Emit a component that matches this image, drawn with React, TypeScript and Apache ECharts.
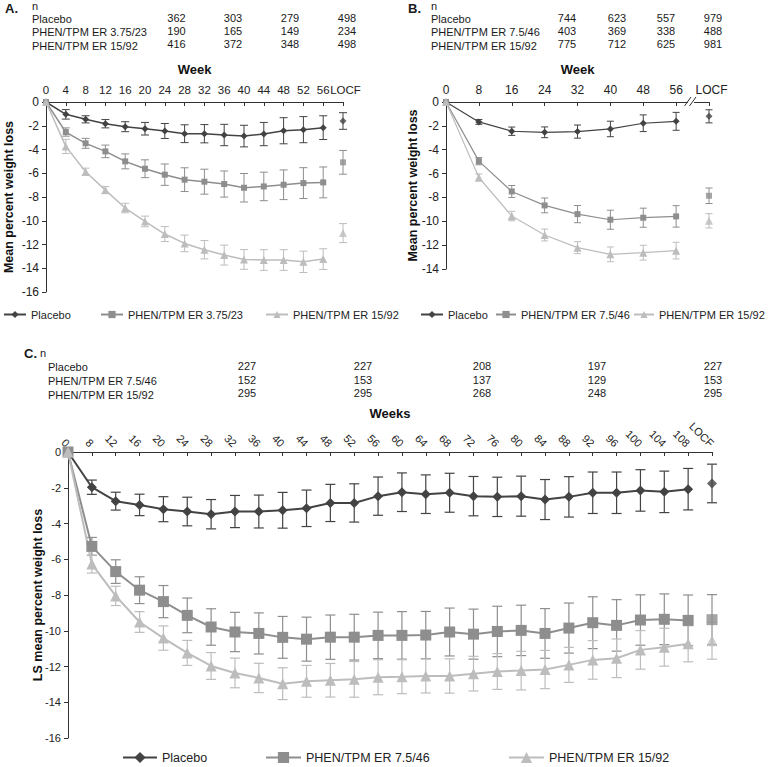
import React, { useEffect, useRef } from 'react';
import * as echarts from 'echarts';

const FONT = '"Liberation Sans", Arial, Helvetica, sans-serif';

const C_PLACEBO = '#434343';
const C_MID = '#8e8e8e';
const C_HIGH = '#bdbdbd';

// ---------- Panel A ----------
const aWeeks = ['0', '4', '8', '12', '16', '20', '24', '28', '32', '36', '40', '44', '48', '52', '56', 'LOCF'];
const aPlacebo = [0, -1.04, -1.46, -1.83, -2.08, -2.25, -2.44, -2.67, -2.67, -2.78, -2.87, -2.7, -2.42, -2.33, -2.16, -1.6];
const aPlaceboErr = [0, 0.4, 0.3, 0.35, 0.42, 0.53, 0.63, 0.75, 0.77, 0.9, 0.91, 0.98, 1.1, 1.1, 1.0, 0.7];
const aMid = [0, -2.53, -3.48, -4.16, -5.0, -5.62, -6.12, -6.54, -6.71, -6.91, -7.22, -7.11, -6.97, -6.83, -6.77, -5.08];
const aMidErr = [0, 0.35, 0.42, 0.53, 0.63, 0.75, 0.9, 1.0, 1.05, 1.1, 1.2, 1.2, 1.25, 1.3, 1.3, 1.0];
const aHigh = [0, -3.74, -5.87, -7.42, -8.93, -10.06, -11.12, -11.91, -12.44, -12.89, -13.26, -13.31, -13.31, -13.46, -13.23, -11.04];
const aHighErr = [0, 0.6, 0.3, 0.3, 0.4, 0.45, 0.63, 0.7, 0.77, 0.84, 0.83, 0.87, 0.87, 0.9, 0.87, 0.8];
const aGroups = ['Placebo', 'PHEN/TPM ER 3.75/23', 'PHEN/TPM ER 15/92'];
const aN = [
  [362, 303, 279, 498],
  [190, 165, 149, 234],
  [416, 372, 348, 498],
];

// ---------- Panel B ----------
const bWeeks = ['0', '8', '16', '24', '32', '40', '48', '56', 'LOCF'];
const bPlacebo = [0, -1.67, -2.45, -2.54, -2.48, -2.26, -1.78, -1.62, -1.2];
const bPlaceboErr = [0, 0.2, 0.35, 0.45, 0.55, 0.65, 0.7, 0.75, 0.55];
const bMid = [0, -4.96, -7.5, -8.67, -9.4, -9.87, -9.7, -9.59, -7.86];
const bMidErr = [0, 0.3, 0.5, 0.62, 0.72, 0.8, 0.8, 0.9, 0.65];
const bHigh = [0, -6.33, -9.56, -11.15, -12.21, -12.77, -12.63, -12.46, -9.96];
const bHighErr = [0, 0.3, 0.4, 0.5, 0.5, 0.62, 0.62, 0.7, 0.6];
const bGroups = ['Placebo', 'PHEN/TPM ER 7.5/46', 'PHEN/TPM ER 15/92'];
const bN = [
  [744, 623, 557, 979],
  [403, 369, 338, 488],
  [775, 712, 625, 981],
];

// ---------- Panel C ----------
const cWeeks = ['0', '8', '12', '16', '20', '24', '28', '32', '36', '40', '44', '48', '52', '56', '60', '64', '68', '72', '76', '80', '84', '88', '92', '96', '100', '104', '108', 'LOCF'];
const cPlacebo = [0, -1.97, -2.75, -2.96, -3.2, -3.33, -3.48, -3.33, -3.33, -3.26, -3.15, -2.85, -2.85, -2.47, -2.25, -2.36, -2.28, -2.47, -2.51, -2.47, -2.66, -2.51, -2.28, -2.28, -2.15, -2.23, -2.08, -1.76];
const cPlaceboErr = [0, 0.4, 0.5, 0.6, 0.7, 0.8, 0.82, 0.9, 0.92, 1.0, 1.02, 1.04, 1.07, 1.07, 1.08, 1.08, 1.09, 1.1, 1.1, 1.12, 1.12, 1.13, 1.16, 1.16, 1.16, 1.16, 1.16, 1.08];
const cMid = [0, -5.28, -6.69, -7.73, -8.37, -9.14, -9.79, -10.07, -10.15, -10.37, -10.47, -10.36, -10.36, -10.26, -10.26, -10.24, -10.07, -10.19, -10.04, -9.98, -10.15, -9.85, -9.55, -9.7, -9.4, -9.36, -9.42, -9.38];
const cMidErr = [0, 0.5, 0.66, 0.75, 0.9, 0.97, 1.02, 1.1, 1.15, 1.17, 1.23, 1.24, 1.28, 1.3, 1.33, 1.32, 1.34, 1.4, 1.41, 1.41, 1.39, 1.4, 1.45, 1.44, 1.41, 1.42, 1.42, 1.4];
const cHigh = [0, -6.27, -8.05, -9.51, -10.41, -11.24, -11.97, -12.36, -12.64, -12.96, -12.83, -12.77, -12.72, -12.6, -12.57, -12.53, -12.53, -12.4, -12.28, -12.23, -12.17, -11.91, -11.63, -11.54, -11.07, -10.92, -10.73, -10.56];
const cHighErr = [0, 0.5, 0.54, 0.58, 0.68, 0.7, 0.75, 0.83, 0.82, 0.89, 0.89, 0.94, 1.0, 0.98, 0.95, 0.95, 0.96, 0.97, 1.0, 1.08, 1.07, 0.98, 1.08, 1.08, 1.08, 1.06, 1.01, 1.03];
const cGroups = ['Placebo', 'PHEN/TPM ER 7.5/46', 'PHEN/TPM ER 15/92'];
const cN = [
  [227, 227, 208, 197, 227],
  [152, 153, 137, 129, 153],
  [295, 295, 268, 248, 295],
];

const COLORS = [C_PLACEBO, C_MID, C_HIGH];
const SYMBOLS = ['diamond', 'rect', 'triangle'];

function mkSeries(prefix: string, idx: number, names: string[], means: number[][], errs: number[][], sizes: number[], lw: number, cap: number, ebw: number) {
  const out: any[] = [];
  means.forEach((m, g) => {
    const color = COLORS[g];
    const err = errs[g];
    out.push({
      type: 'custom',
      name: prefix + ' SE ' + g,
      xAxisIndex: idx,
      yAxisIndex: idx,
      silent: true,
      z: 2,
      encode: { x: 0, y: [1, 2] },
      data: m.map((v, i) => [i, v - err[i], v + err[i]]).filter((_, i) => err[i] > 0),
      renderItem: (params: any, api: any) => {
        const x = api.value(0);
        const lo = api.coord([x, api.value(1)]);
        const hi = api.coord([x, api.value(2)]);
        const s = { stroke: color, lineWidth: ebw };
        return {
          type: 'group',
          children: [
            { type: 'line', shape: { x1: hi[0], y1: hi[1], x2: lo[0], y2: lo[1] }, style: s },
            { type: 'line', shape: { x1: hi[0] - cap / 2, y1: hi[1], x2: hi[0] + cap / 2, y2: hi[1] }, style: s },
            { type: 'line', shape: { x1: lo[0] - cap / 2, y1: lo[1], x2: lo[0] + cap / 2, y2: lo[1] }, style: s },
          ],
        };
      },
    });
  });
  means.forEach((m, g) => {
    const color = COLORS[g];
    out.push({
      type: 'line',
      name: names[g],
      xAxisIndex: idx,
      yAxisIndex: idx,
      z: 3,
      silent: true,
      symbol: SYMBOLS[g],
      symbolSize: sizes[g],
      showAllSymbol: true,
      lineStyle: { color, width: lw },
      itemStyle: { color },
      data: m.map((v, i) => (i === m.length - 1 ? '-' : v)),
    });
    out.push({
      type: 'scatter',
      name: prefix + ' LOCF ' + g,
      xAxisIndex: idx,
      yAxisIndex: idx,
      z: 3,
      silent: true,
      symbol: SYMBOLS[g],
      symbolSize: sizes[g],
      itemStyle: { color },
      data: [[m.length - 1, m[m.length - 1]]],
    });
  });
  return out;
}

function txt(x: number, y: number, text: string, o: any = {}) {
  return {
    type: 'text',
    x,
    y,
    silent: true,
    z: 10,
    style: {
      text,
      fill: o.fill || '#1a1a1a',
      fontSize: o.size || 11,
      fontFamily: FONT,
      fontWeight: o.weight || 'normal',
      textAlign: o.align || 'left',
      align: o.align || 'left',
      textVerticalAlign: 'middle',
      verticalAlign: 'middle',
    },
  };
}

function xAxisCfg(grid: number, data: string[], name: string, gap: number, labelSize: number, rotate: number, margin: number) {
  return {
    gridIndex: grid,
    type: 'category',
    position: 'top',
    data,
    boundaryGap: false,
    name,
    nameLocation: 'middle',
    nameGap: gap,
    nameMoveOverlap: false,
    nameTextStyle: { fontWeight: 'bold', fontSize: 13, color: '#111', fontFamily: FONT },
    axisLine: { onZero: false, lineStyle: { color: '#333', width: 1 } },
    axisTick: { inside: true, length: 4, interval: 0, lineStyle: { color: '#333' } },
    axisLabel: {
      interval: 0,
      fontSize: labelSize,
      color: '#222',
      fontFamily: FONT,
      rotate,
      margin,
      hideOverlap: false,
      formatter: (v: string) => (v === 'LOCF' && rotate === 0 ? '{l|LOCF}' : v),
      rich: { l: { fontSize: labelSize, color: '#222', fontFamily: FONT, padding: [0, 0, 0, 5] } },
    },
    splitLine: { show: false },
  };
}

function yAxisCfg(grid: number, min: number, name: string, gap: number, nameSize: number, labelSize: number) {
  return {
    gridIndex: grid,
    type: 'value',
    min,
    max: 0,
    interval: 2,
    name,
    nameLocation: 'middle',
    nameGap: gap,
    nameMoveOverlap: false,
    nameTextStyle: { fontWeight: 'bold', fontSize: nameSize, color: '#111', fontFamily: FONT },
    axisLine: { show: true, lineStyle: { color: '#333', width: 1 } },
    axisTick: { show: true, length: 4, lineStyle: { color: '#333' } },
    axisLabel: { fontSize: labelSize, color: '#222', fontFamily: FONT, margin: 7 },
    splitLine: { show: false },
  };
}

function legendItem(name: string, left: number, top: number, w: number, h: number, size: number) {
  return {
    data: [name],
    left,
    top,
    padding: 0,
    itemWidth: w,
    itemHeight: h,
    selectedMode: false,
    textStyle: { fontSize: size, color: '#222', fontFamily: FONT },
  };
}

export default function App() {
  const ref = useRef<HTMLDivElement>(null);
  useEffect(() => {
    if (!ref.current) return;
    const chart = echarts.init(ref.current, undefined, { renderer: 'svg' });

    const graphics: any[] = [];
    // Panel A table
    graphics.push(txt(5, 8, 'A.', { weight: 'bold', size: 13 }));
    graphics.push(txt(32, 6, 'n'));
    const aRowY = [19, 32.3, 45.7];
    const aNumY = [17.5, 30.8, 44];
    const aCols = [176.5, 233, 290, 347];
    aGroups.forEach((g, r) => {
      graphics.push(txt(32, aRowY[r], g));
      aN[r].forEach((v, c) => graphics.push(txt(aCols[c], aNumY[r], String(v), { align: 'center' })));
    });
    // Panel B table
    graphics.push(txt(408, 8, 'B.', { weight: 'bold', size: 13 }));
    graphics.push(txt(431, 6, 'n'));
    const bCols = [567, 617, 666, 713];
    bGroups.forEach((g, r) => {
      graphics.push(txt(431, aRowY[r], g));
      bN[r].forEach((v, c) => graphics.push(txt(bCols[c], aNumY[r], String(v), { align: 'center' })));
    });
    // Panel C table
    graphics.push(txt(24, 353, 'C.', { weight: 'bold', size: 13 }));
    graphics.push(txt(40, 353, 'n'));
    const cRowY = [367, 381, 394.5];
    const cNumY = [365.5, 379.5, 393];
    const cCols = [247, 363, 482, 597, 713];
    cGroups.forEach((g, r) => {
      graphics.push(txt(48, cRowY[r], g));
      cN[r].forEach((v, c) => graphics.push(txt(cCols[c], cNumY[r], String(v), { align: 'center' })));
    });
    // Axis break in panel B
    graphics.push({ type: 'rect', shape: { x: 688, y: 99, width: 6, height: 5 }, style: { fill: '#fff' }, z: 20, silent: true });
    graphics.push({ type: 'line', shape: { x1: 684.5, y1: 106, x2: 691, y2: 97 }, style: { stroke: '#333', lineWidth: 1 }, z: 21, silent: true });
    graphics.push({ type: 'line', shape: { x1: 689.5, y1: 106, x2: 696, y2: 97 }, style: { stroke: '#333', lineWidth: 1 }, z: 21, silent: true });

    const option: any = {
      animation: false,
      backgroundColor: '#fff',
      textStyle: { fontFamily: FONT },
      grid: [
        { left: 46, top: 102, width: 297, height: 190 },
        { left: 446, top: 102, width: 263, height: 167 },
        { left: 68, top: 452, width: 644, height: 286 },
      ],
      xAxis: [
        xAxisCfg(0, aWeeks, 'Week', 26, 11.5, 0, 6),
        xAxisCfg(1, bWeeks, 'Week', 26, 12, 0, 6),
        xAxisCfg(2, cWeeks, 'Weeks', 32, 11, 45, 7),
      ],
      yAxis: [
        yAxisCfg(0, -16, 'Mean percent weight loss', 31, 12.5, 12),
        yAxisCfg(1, -14, 'Mean percent weight loss', 27, 12.5, 12),
        yAxisCfg(2, -16, 'LS mean percent weight loss', 24, 12.5, 11),
      ],
      legend: [
        legendItem(aGroups[0], 3, 309, 22, 9, 11),
        legendItem(aGroups[1], 100, 309, 22, 9, 11),
        legendItem(aGroups[2], 265, 309, 22, 9, 11),
        legendItem(bGroups[0], 420, 309, 22, 9, 11),
        legendItem(bGroups[1], 495, 309, 20, 9, 11),
        legendItem(bGroups[2], 633, 309, 20, 9, 11),
        legendItem(cGroups[0], 122, 751, 34, 14, 12.5),
        legendItem(cGroups[1], 265, 751, 35, 14, 12.5),
        legendItem(cGroups[2], 508, 751, 35, 14, 12.5),
      ],
      graphic: graphics,
      series: [
        ...mkSeries('A', 0, aGroups, [aPlacebo, aMid, aHigh], [aPlaceboErr, aMidErr, aHighErr], [7, 6, 8], 1.5, 8, 1),
        ...mkSeries('B', 1, bGroups, [bPlacebo, bMid, bHigh], [bPlaceboErr, bMidErr, bHighErr], [7, 6, 8], 1.2, 7, 1),
        ...mkSeries('C', 2, cGroups, [cPlacebo, cMid, cHigh], [cPlaceboErr, cMidErr, cHighErr], [10, 11, 11], 2, 10, 1.2),
      ],
    };
    chart.setOption(option);
    return () => chart.dispose();
  }, []);
  return <div ref={ref} style={{ position: 'fixed', left: 0, top: 0, width: 769, height: 767, background: '#fff' }} />;
}
